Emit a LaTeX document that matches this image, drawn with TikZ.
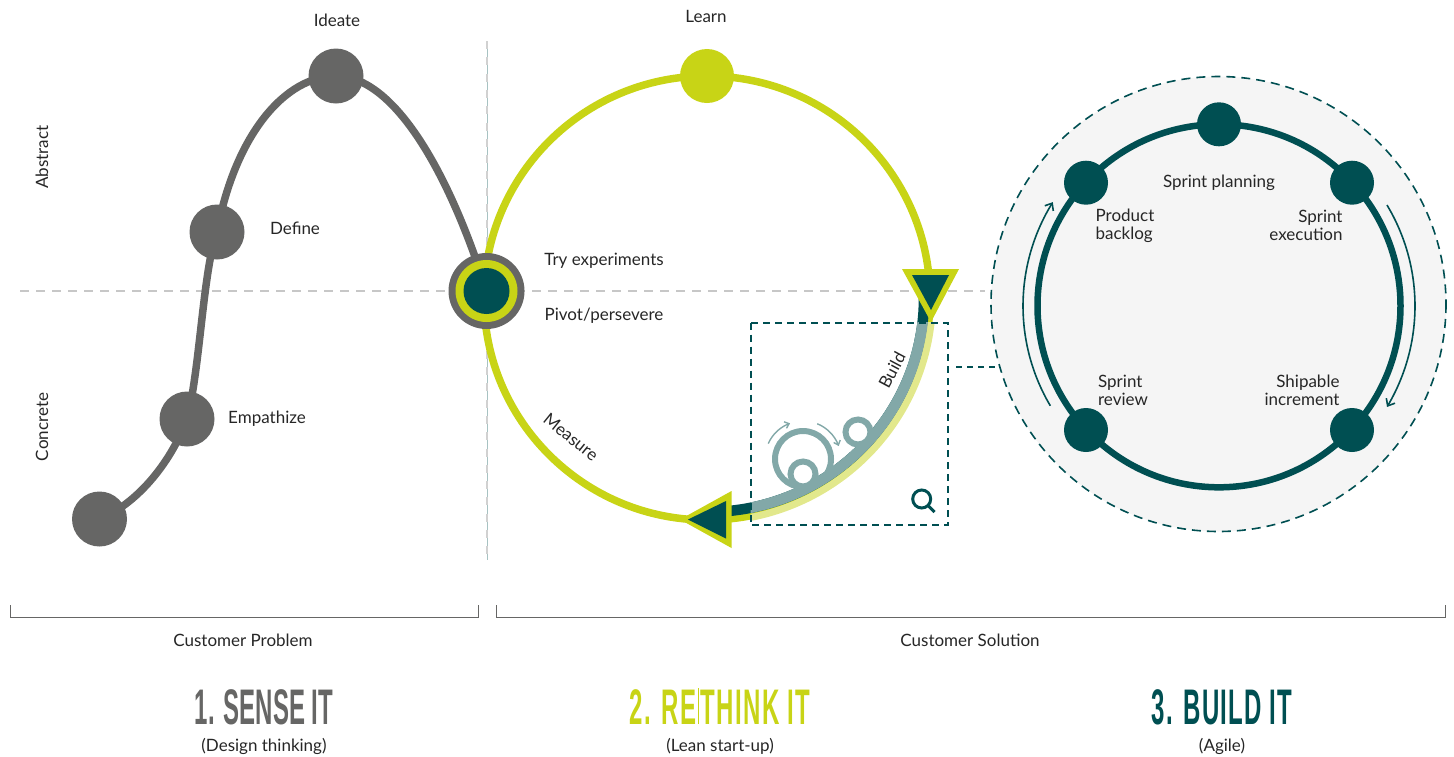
\documentclass[tikz,border=0pt]{standalone}
\usepackage{fontspec}
\usepackage{xcolor}
\usetikzlibrary{backgrounds,arrows.meta}
\setmainfont{Lato}
\newfontfamily\headfont[FakeStretch=0.48]{Liberation Sans}
\definecolor{stonegrey}{HTML}{666665}
\definecolor{leanlime}{HTML}{C8D416}
\definecolor{paleline}{HTML}{E2E88C}
\definecolor{deepteal}{HTML}{004F52}
\definecolor{softteal}{HTML}{82A8A8}
\definecolor{discgrey}{HTML}{F5F5F5}

\begin{document}
\begin{tikzpicture}[x=1pt,y=-1pt,
    >={Straight Barb[length=6pt,width=10pt]},
    lbl/.style={inner sep=0pt, text=black!85, font=\fontsize{17}{18}\selectfont, align=center},
    head/.style={inner sep=0pt, anchor=base, font=\fontsize{50}{50}\headfont\bfseries},
    dot/.style={shape=circle, inner sep=0pt, minimum size=#1},
    greydot/.style={dot=55pt, fill=stonegrey},
    tealdot/.style={dot=44pt, fill=deepteal},
    greyline/.style={draw=stonegrey, line width=7.5pt},
    limeline/.style={draw=leanlime, line width=7.5pt},
    tealline/.style={draw=deepteal, line width=6.5pt},
    hairline/.style={draw=deepteal, line width=1.6pt},
    gearline/.style={draw=softteal, line width=1.4pt}]
    \useasboundingbox (0,0) rectangle (1454,756);

    % sense it
    \node[greydot] (start) at (99.5,519) {};
    \node[greydot] (empathize) at (187,419) {};
    \node[greydot] (define) at (217,232) {};
    \node[greydot] (ideate) at (336,76) {};
    \node[lbl] (ideatelbl) at (337,20) {Ideate};
    \node[lbl] (definelbl) at (295,228) {Define};
    \node[lbl] (empathizelbl) at (267,419) {Empathize};
    \node[lbl,rotate=90] (abstractlbl) at (42,157) {Abstract};
    \node[lbl,rotate=90] (concretelbl) at (42,427) {Concrete};

    % rethink it
    \node[dot=54pt, fill=leanlime] (learn) at (707,76) {};
    \node[dot=76pt, fill=stonegrey] (hubgrey) at (486.5,291) {};
    \node[dot=62pt, fill=leanlime] (hublime) at (486.5,291) {};
    \node[dot=46pt, fill=deepteal] (hubteal) at (486.5,291) {};
    \node[lbl] (learnlbl) at (706,16) {Learn};
    \node[lbl] (trylbl) at (604,261) {Try experiments};
    \node[lbl] (pivotlbl) at (604,316) {Pivot/persevere};
    \node[lbl,rotate=-39] (measurelbl) at (571,437) {Measure};
    \node[lbl,rotate=62] (buildlbl) at (892,370) {Build};

    % build it
    \node[tealdot] (plan) at (1219,124.3) {};
    \node[tealdot] (execution) at (1352,182.7) {};
    \node[tealdot] (increment) at (1352,430) {};
    \node[tealdot] (review) at (1086,430) {};
    \node[tealdot] (backlog) at (1086,182.7) {};
    \node[lbl] (planlbl) at (1219,183) {Sprint planning};
    \node[lbl,align=left] (backloglbl) at (1125,226) {Product\\backlog};
    \node[lbl,align=right] (executionlbl) at (1306,225) {Sprint\\execution};
    \node[lbl,align=left] (reviewlbl) at (1123,390) {Sprint\\review};
    \node[lbl,align=right] (incrementlbl) at (1302,390) {Shipable\\increment};

    % bottom captions
    \node[lbl] (problemlbl) at (243,640) {Customer Problem};
    \node[lbl] (solutionlbl) at (970,640) {Customer Solution};
    \node[head,text=stonegrey] (sense) at (264,724) {1. SENSE IT};
    \node[head,text=leanlime] (rethink) at (720,724) {\addfontfeature{LetterSpace=2.8}2. RE\hspace{1.5pt}\rule{1pt}{36pt}\hspace{1.5pt}THINK IT};
    \node[head,text=deepteal] (buildit) at (1222,724) {\addfontfeature{LetterSpace=2.6}3. BUILD IT};
    \node[lbl] (sensesub) at (264,746) {(Design thinking)};
    \node[lbl] (rethinksub) at (720,746) {(Lean start-up)};
    \node[lbl] (builditsub) at (1222,746) {(Agile)};

    \coordinate (linkleft) at (956,367);
    \coordinate (linkright) at (1000,367);

    \begin{scope}[on background layer]
    \draw[draw=black!22, line width=1.6pt, dash pattern=on 9pt off 7pt] (20,291) -- (985,291);
    \draw[draw=softteal!70, line width=0.8pt] (487,41) -- (487,560);
    \draw[draw=black!18, line width=2pt, dash pattern=on 8pt off 8.3pt] (487,41) -- (487,560);
    \draw[hairline, dash pattern=on 6pt off 5pt] (linkleft) -- (linkright);

    % grey path through the four dots
    \draw[greyline] (start.center) .. controls (135,505) and (170,465) .. (empathize.center);
    \draw[greyline] (empathize.center) .. controls (200,370) and (203,270) .. (define.center);
    \draw[greyline] (define.center) .. controls (235,135) and (285,76) .. (ideate.center);
    \draw[greyline] (ideate.center) .. controls (395,76) and (450,175) .. (hubgrey.center);

    % learn loop
    \draw[limeline] (learn.center) arc[start angle=-90, delta angle=360, x radius=223, y radius=222];
    \draw[draw=deepteal, line width=10.5pt, domain=0:84, smooth, variable=\t] plot ({708+216*cos(\t)},{298+214*sin(\t)});
    \begin{scope}
      \clip (750.7,322.7) rectangle (948,525);
      \draw[draw=paleline, line width=7pt, domain=0:90, smooth, variable=\t] plot ({708+224.5*cos(\t)},{298+223.5*sin(\t)});
      \draw[draw=softteal, line width=10.5pt, domain=0:90, smooth, variable=\t] plot ({708+216*cos(\t)},{298+214*sin(\t)});
    \end{scope}
    \fill[leanlime] (902,269) -- (959,269) -- (931,322) -- cycle;
    \fill[deepteal] (912,275) -- (949,275) -- (931,310) -- cycle;
    \fill[leanlime] (680,519.5) -- (731.5,491) -- (731.5,548) -- cycle;
    \fill[deepteal] (688,519.5) -- (726,501) -- (726,538.5) -- cycle;

    % small wheels
    \draw[draw=softteal, line width=6pt] (803,459) circle (28);
    \draw[draw=softteal, fill=white, line width=6pt] (803,474) circle (12.5);
    \draw[draw=softteal, fill=white, line width=6pt] (858,432) circle (12.5);
    \draw[gearline, -{Straight Barb[length=4pt,width=7pt]}, domain=204:250, smooth, variable=\t] plot ({803+38*cos(\t)},{459+38*sin(\t)});
    \draw[gearline, -{Straight Barb[length=4pt,width=7pt]}, domain=-68:-20, smooth, variable=\t] plot ({803+38*cos(\t)},{459+38*sin(\t)});

    % zoom frame and magnifier
    \draw[hairline, dash pattern=on 7pt off 5pt] (750.7,322.7) rectangle (948,525);
    \draw[draw=deepteal, line width=3pt] (921.7,499) circle (9);
    \draw[draw=deepteal, line width=3pt] (927.5,505) -- (934.5,512);

    % sprint loop
    \draw[hairline, fill=discgrey, dash pattern=on 9pt off 6pt] (1218.5,304) circle (227.5);
    \draw[tealline] (plan.center) arc[start angle=-90, delta angle=360, radius=181.5];
    \draw[hairline, ->, domain=149.4:212, smooth, variable=\t] plot ({1219+196*cos(\t)},{306+196*sin(\t)});
    \draw[hairline, ->, domain=-31:31, smooth, variable=\t] plot ({1219+196*cos(\t)},{306+196*sin(\t)});

    % brackets
    \draw[draw=stonegrey, line width=1pt] (10,605) -- (10,617) -- (478,617) -- (478,605);
    \draw[draw=stonegrey, line width=1pt] (496,605) -- (496,617) -- (1445,617) -- (1445,605);
    \end{scope}
\end{tikzpicture}
\end{document}
